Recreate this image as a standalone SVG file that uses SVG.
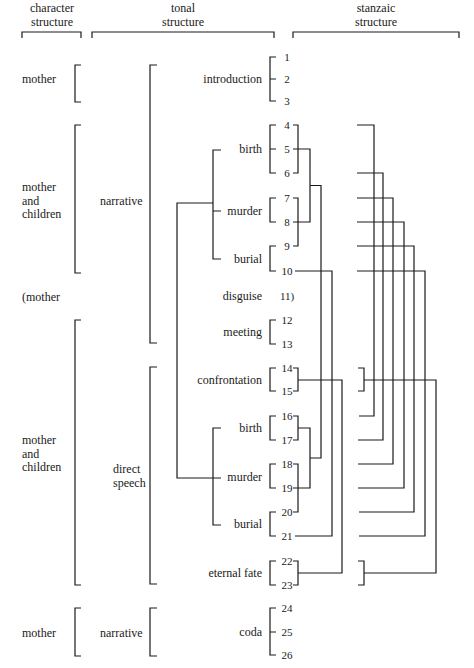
<svg xmlns="http://www.w3.org/2000/svg" width="474" height="668" viewBox="0 0 474 668" font-family="'Liberation Serif', 'DejaVu Serif', serif">
<style>
text{font-family:'Liberation Serif','DejaVu Serif',serif;font-size:12px;fill:#1a1a1a}
.n{font-size:11px;text-anchor:middle}
.r{text-anchor:end}
.c{text-anchor:middle}
.ln{fill:none;stroke:#1a1a1a;stroke-width:1.2}
</style>
<rect width="474" height="668" fill="#fff"/>
<g id="headers">
<text class="c" x="52" y="12">character</text><text class="c" x="52" y="26">structure</text>
<text class="c" x="183" y="12">tonal</text><text class="c" x="183" y="26">structure</text>
<text class="c" x="376" y="12">stanzaic</text><text class="c" x="376" y="26">structure</text>
<path class="ln" d="M22,38V32H81V38M92,38V32H274V38M293,38V32H459V38"/>
</g>
<g id="character">
<text x="22" y="83">mother</text>
<text x="22" y="191">mother</text><text x="22" y="205">and</text><text x="22" y="218">children</text>
<text x="22" y="301">(mother</text>
<text x="22" y="444">mother</text><text x="22" y="458">and</text><text x="22" y="471">children</text>
<text x="22" y="637">mother</text>
<path class="ln" d="M81,65H75V102H81M81,125H75V273H81M81,320H75V585H81M81,608H75V656H81"/>
</g>
<g id="tonal">
<text x="100" y="205">narrative</text>
<text x="113" y="473">direct</text><text x="113" y="487">speech</text>
<text x="100" y="637">narrative</text>
<path class="ln" d="M157,65H150V343H157M157,367H150V584H157M157,608H150V656H157"/>
</g>
<g id="episodes">
<text class="r" x="262" y="83">introduction</text>
<text class="r" x="262" y="153">birth</text>
<text class="r" x="262" y="215">murder</text>
<text class="r" x="262" y="263">burial</text>
<text class="r" x="262" y="300">disguise</text>
<text class="r" x="262" y="336">meeting</text>
<text class="r" x="262" y="384">confrontation</text>
<text class="r" x="262" y="432">birth</text>
<text class="r" x="262" y="481">murder</text>
<text class="r" x="262" y="528">burial</text>
<text class="r" x="262" y="577">eternal fate</text>
<text class="r" x="262" y="636">coda</text>
<path class="ln" d="M276,57H270V101H276M270,79H276M276,125H270V173H276M270,149H276M276,198H270V222H276M276,246H270V271H276M276,320H270V344H276M276,368H270V391H276M276,416H270V440H276M276,464H270V488H276M276,512H270V536H276M276,561H270V585H276M276,608H270V655H276M270,632H276"/>
</g>
<g id="stanzas">
<text class="n" x="287" y="61">1</text><text class="n" x="287" y="83">2</text><text class="n" x="287" y="105">3</text>
<text class="n" x="287" y="129">4</text><text class="n" x="287" y="153">5</text><text class="n" x="287" y="177">6</text>
<text class="n" x="287" y="202">7</text><text class="n" x="287" y="226">8</text><text class="n" x="287" y="250">9</text>
<text class="n" x="287" y="275">10</text><text x="280" y="300" style="font-size:11px">11)</text>
<text class="n" x="287" y="324">12</text><text class="n" x="287" y="348">13</text>
<text class="n" x="287" y="372">14</text><text class="n" x="287" y="395">15</text>
<text class="n" x="287" y="420">16</text><text class="n" x="287" y="444">17</text>
<text class="n" x="287" y="468">18</text><text class="n" x="287" y="492">19</text>
<text class="n" x="287" y="516">20</text><text class="n" x="287" y="540">21</text>
<text class="n" x="287" y="565">22</text><text class="n" x="287" y="589">23</text>
<text class="n" x="287" y="612">24</text><text class="n" x="287" y="636">25</text><text class="n" x="287" y="659">26</text>
</g>
<g id="connectors">
<path class="ln" d="M221,150H213V259H221M213,211H221M213,203H177V478H221M221,428H213V525H221"/>
<path class="ln" d="M293,125H298V173H293M293,149H310V222H293M293,198H298V246H293M310,185.5H321V458H310"/>
<path class="ln" d="M293,416H298V440H293M298,428H310V488H293M293,464H298V512H293"/>
<path class="ln" d="M295,271H332V536H295"/>
<path class="ln" d="M293,368H298V391H293M298,380H342V573H298M293,561H298V585H293"/>
<path class="ln" d="M357,125H374V416H359M357,173H383V440H358M357,198H393V464H358M357,222H404V488H358M357,246H414V512H359M357,271H425V536H359"/>
<path class="ln" d="M358,368H364V391H358M364,380H436V573H364M358,561H364V585H358"/>
</g>
</svg>
